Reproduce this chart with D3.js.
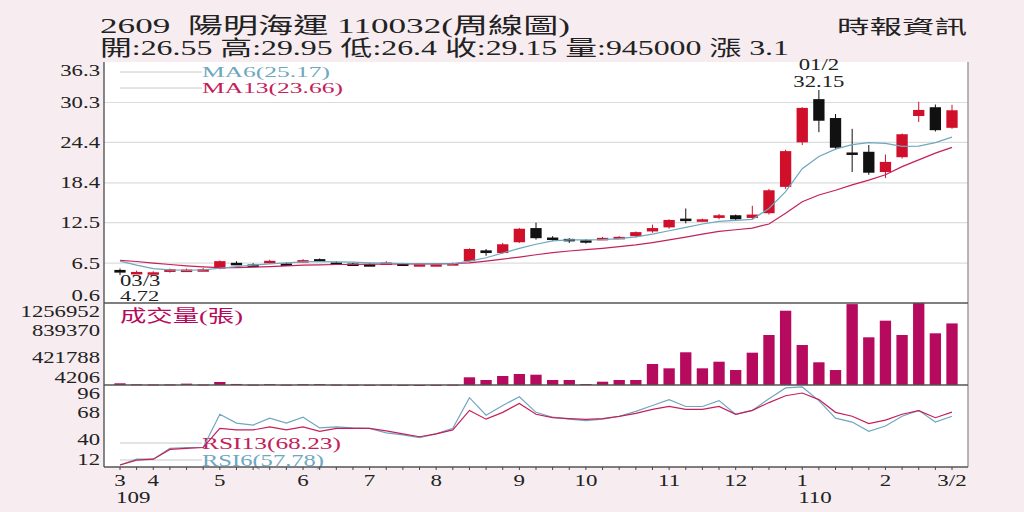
<!DOCTYPE html>
<html>
<head>
<meta charset="utf-8">
<script src="https://cdn.jsdelivr.net/npm/d3@7"></script>
<style>
  html, body { margin: 0; padding: 0; background: #f7edf0; }
  svg text { font-family: "Liberation Serif", "Noto Sans CJK TC", serif; fill: #222; white-space: pre; }
</style>
</head>
<body>
<div id="wrapper"></div>
<script>
// weekly candles, 109/03 .. 110/03
const weeks = ["2020-03-16","2020-03-23","2020-03-30","2020-04-06","2020-04-13","2020-04-20","2020-04-27",
  "2020-05-04","2020-05-11","2020-05-18","2020-05-25","2020-06-01","2020-06-08","2020-06-15","2020-06-22","2020-06-29",
  "2020-07-06","2020-07-13","2020-07-20","2020-07-27","2020-08-03","2020-08-10","2020-08-17","2020-08-24","2020-08-31",
  "2020-09-07","2020-09-14","2020-09-21","2020-09-28","2020-10-05","2020-10-12","2020-10-19","2020-10-26",
  "2020-11-02","2020-11-09","2020-11-16","2020-11-23","2020-11-30","2020-12-07","2020-12-14","2020-12-21","2020-12-28",
  "2021-01-04","2021-01-11","2021-01-18","2021-01-25","2021-02-01","2021-02-08","2021-02-15","2021-02-22","2021-03-01"]
const openPrices = [5.5,5.0,5.1,5.2,5.5,5.55,5.7,6.55,6.3,6.5,6.45,6.7,7.1,6.6,6.45,6.35,6.5,6.45,6.3,6.3,6.4,6.8,8.4,8.0,9.6,
  11.7,10.3,10.1,9.9,10.1,10.2,10.5,11.2,11.8,13.1,12.9,13.2,13.6,13.2,13.9,17.8,24.4,30.8,28.0,22.9,23.0,20.0,22.2,28.3,29.6,26.55]
const highPrices = [5.7,5.4,5.3,5.7,5.7,5.8,6.9,6.8,6.5,7.0,6.6,7.1,7.2,6.8,6.6,6.5,6.8,6.55,6.45,6.45,6.6,8.7,8.6,9.5,11.7,
  12.5,10.5,10.2,10.05,10.4,10.5,11.2,12.2,13.0,14.6,13.1,13.8,13.7,15.0,17.5,23.3,29.6,32.15,28.6,26.4,24.0,22.6,25.7,30.4,30.0,29.95]
const lowPrices = [4.72,4.9,5.0,5.1,5.4,5.4,5.6,6.3,6.1,6.4,6.3,6.6,6.7,6.4,6.3,6.2,6.4,6.3,6.2,6.2,6.3,6.7,7.6,7.9,9.5,
  10.0,9.8,9.5,9.4,10.0,10.1,10.3,11.0,11.6,12.4,12.7,13.0,12.8,13.0,13.7,17.5,24.0,25.9,23.4,20.0,19.6,19.1,22.0,27.4,26.0,26.4]
const closePrices = [5.1,5.2,5.15,5.6,5.55,5.6,6.8,6.4,6.25,6.85,6.4,6.95,6.8,6.5,6.4,6.3,6.6,6.4,6.35,6.35,6.5,8.6,8.0,9.3,11.6,
  10.2,9.95,10.0,9.85,10.25,10.4,11.1,11.7,12.9,12.8,13.0,13.6,13.0,13.7,17.3,23.1,29.5,27.6,23.6,22.7,19.9,21.5,25.6,29.2,26.2,29.15]
const ma6 = [6.8,6.2,5.7,5.5,5.45,5.5,5.75,6.0,6.2,6.4,6.55,6.7,6.75,6.7,6.65,6.55,6.5,6.45,6.4,6.4,6.4,6.8,7.3,8.0,8.7,
  9.3,9.8,9.95,9.95,10.0,10.15,10.4,10.8,11.3,11.8,12.3,12.7,12.85,13.0,14.6,17.1,20.5,22.3,23.4,24.05,24.35,24.25,23.8,23.85,24.35,25.17]
const ma13 = [6.9,6.75,6.5,6.3,6.1,5.95,5.85,5.85,5.9,6.0,6.1,6.2,6.25,6.3,6.3,6.35,6.35,6.4,6.4,6.4,6.45,6.55,6.8,7.1,7.4,
  7.75,8.05,8.3,8.5,8.7,8.95,9.2,9.55,9.95,10.35,10.8,11.2,11.45,11.7,12.3,13.9,15.6,16.6,17.3,18.1,18.8,19.6,20.8,21.8,22.8,23.66]
const volumes = [30000,15000,12000,14000,25000,12000,50000,20000,10000,18000,10000,16000,18000,10000,8000,7000,9000,6000,4206,6000,9000,
  121800,80600,141700,172300,161600,80600,80600,19500,54600,80600,80600,325000,259000,504000,259000,360000,233000,498000,768000,
  1139000,615000,351000,233000,1240000,733000,987000,768000,1256952,794000,945000]
const rsi6 = [14,20,20,31,32,32,66,57,55,62,57,63,52,53,52,51.6,47,45,42,46,51.6,83,65,75,84,68,63,61,59.5,61,64,69,75,81,74,74,
  80,66,70,82,93,94,80,62,58,48.5,54,64,70,58,64]
const rsi13 = [14,19,20,30,31,32,51.6,50,50,53,50,53,48.5,51.6,51.6,51.6,49,46,43,46,50,70,61,68,77,66,62.5,61.5,60.8,61.5,63.8,
  67,71,74,71,71,74,66,70,78,85,87.8,81,68,64,56.5,60,66,69.7,62.5,68.23]

const priceTicks = [0.6, 6.5, 12.5, 18.4, 24.4, 30.3, 36.3]
const volumeTicks = [4206, 421788, 839370, 1256952]
const rsiTicks = [12, 40, 68, 96]
const monthTickWeeks = ["2020-03-16","2020-03-30","2020-04-27","2020-06-01","2020-06-29","2020-07-27","2020-08-31",
  "2020-09-28","2020-11-02","2020-11-30","2020-12-28","2021-02-01","2021-03-01"]
const monthTickLabels = ["3","4","5","6","7","8","9","10","11","12","1","2","3/2"]
const yearTickWeeks = ["2020-03-16","2020-12-28"]
const yearTickLabels = ["109","110"]

const dimensions = {
  width: 1024,
  height: 512,
  left: 104,
  right: 968,
  priceTop: 62,
  priceBottom: 303,
  volumeBottom: 385,
  rsiBottom: 467,
}

const red = "#d0102a"
const black = "#111"
const magenta = "#b50a5e"
const teal = "#6ea7c0"
const crimson = "#c4215a"

// stretch a text sideways around its own anchor point
function widen(sel, sx) {
  sel.attr("transform", function() {
    const x = +this.getAttribute("x"), y = +this.getAttribute("y")
    return `translate(${x},${y}) scale(${sx},1) translate(${-x},${-y})`
  })
}

function drawChart() {
  const svg = d3.select("#wrapper")
    .append("svg")
      .attr("width", dimensions.width)
      .attr("height", dimensions.height)

  const xScale = d3.scalePoint()
    .domain(weeks)
    .range([dimensions.left + 16, dimensions.right - 16])
  const barWidth = xScale.step() * 0.68

  const yPrice = d3.scaleLinear().domain([0.6, 36.3]).range([dimensions.priceBottom, dimensions.priceTop])
  const yVolume = d3.scaleLinear().domain([4206, 1256952]).range([dimensions.volumeBottom, dimensions.priceBottom])
  const yRsi = d3.scaleLinear().domain([12, 96]).range([dimensions.rsiBottom, dimensions.volumeBottom])

  // white plotting area
  svg.append("rect")
    .attr("x", dimensions.left)
    .attr("y", dimensions.priceTop)
    .attr("width", dimensions.right - dimensions.left)
    .attr("height", dimensions.rsiBottom - dimensions.priceTop)
    .attr("fill", "#fff")

  // price gridlines
  svg.append("g").selectAll("line")
    .data(priceTicks.slice(1, -1))
    .join("line")
      .attr("x1", dimensions.left)
      .attr("x2", dimensions.right)
      .attr("y1", d => yPrice(d))
      .attr("y2", d => yPrice(d))
      .attr("stroke", "#dcdcdc")
      .attr("stroke-width", 1.2)

  // headers
  svg.append("text")
    .attr("x", 100).attr("y", 33)
    .attr("font-size", 22)
    .attr("textLength", 470).attr("lengthAdjust", "spacingAndGlyphs")
    .text("2609  陽明海運 110032(周線圖)")
  svg.append("text")
    .attr("x", 100).attr("y", 55)
    .attr("font-size", 21)
    .attr("textLength", 689).attr("lengthAdjust", "spacingAndGlyphs")
    .text("開:26.55 高:29.95 低:26.4 收:29.15 量:945000 漲 3.1")
  svg.append("text")
    .attr("x", 837).attr("y", 34)
    .attr("font-size", 19)
    .attr("textLength", 130).attr("lengthAdjust", "spacingAndGlyphs")
    .text("時報資訊")

  // y labels, the end labels are pushed inside their panel
  function yLabels(scale, values, top, bottom) {
    svg.append("g").selectAll("text")
      .data(values)
      .join("text")
        .attr("x", dimensions.left - 4)
        .attr("y", d => Math.max(top + 8, Math.min(bottom - 8, scale(d))))
        .attr("dy", "0.35em")
        .attr("text-anchor", "end")
        .attr("font-size", 16)
        .text(d => d)
        .call(widen, 1.42)
  }
  yLabels(yPrice, priceTicks, dimensions.priceTop, dimensions.priceBottom)
  yLabels(yVolume, volumeTicks, dimensions.priceBottom, dimensions.volumeBottom)
  yLabels(yRsi, rsiTicks, dimensions.volumeBottom, dimensions.rsiBottom)

  // candles
  const candles = svg.append("g").selectAll("g")
    .data(weeks)
    .join("g")
  candles.append("line")
    .attr("x1", d => xScale(d))
    .attr("x2", d => xScale(d))
    .attr("y1", (d, i) => yPrice(highPrices[i]))
    .attr("y2", (d, i) => yPrice(lowPrices[i]))
    .attr("stroke", (d, i) => closePrices[i] >= openPrices[i] ? red : black)
    .attr("stroke-width", 1)
  candles.append("rect")
    .attr("x", d => xScale(d) - barWidth / 2)
    .attr("width", barWidth)
    .attr("y", (d, i) => yPrice(Math.max(openPrices[i], closePrices[i])))
    .attr("height", (d, i) => Math.max(2.5, Math.abs(yPrice(openPrices[i]) - yPrice(closePrices[i]))))
    .attr("fill", (d, i) => closePrices[i] >= openPrices[i] ? red : black)

  // moving averages
  const priceLine = series => d3.line()
    .x((d, i) => xScale(weeks[i]))
    .y(d => yPrice(d))(series)
  svg.append("path").attr("d", priceLine(ma13))
    .attr("fill", "none").attr("stroke", crimson).attr("stroke-width", 1.2)
  svg.append("path").attr("d", priceLine(ma6))
    .attr("fill", "none").attr("stroke", teal).attr("stroke-width", 1.2)

  // MA legend
  const maLegend = [["MA6(25.17)", teal, 77, 128], ["MA13(23.66)", crimson, 93, 141]]
  maLegend.forEach(([label, color, y, w]) => {
    svg.append("line")
      .attr("x1", 120).attr("x2", 202).attr("y1", y - 5).attr("y2", y - 5)
      .attr("stroke", "#c8c8c8")
    svg.append("text")
      .attr("x", 202).attr("y", y)
      .attr("font-size", 15.5)
      .attr("textLength", w).attr("lengthAdjust", "spacingAndGlyphs")
      .style("fill", color)
      .text(label)
  })

  // extreme annotations
  svg.append("text").attr("x", 120).attr("y", 286).attr("font-size", 16).text("03/3").call(widen, 1.42)
  svg.append("text").attr("x", 120).attr("y", 301).attr("font-size", 15).text("4.72").call(widen, 1.5)
  svg.append("text").attr("x", xScale("2021-01-04")).attr("y", 70).attr("font-size", 16)
    .attr("text-anchor", "middle").text("01/2").call(widen, 1.42)
  svg.append("text").attr("x", xScale("2021-01-04")).attr("y", 87).attr("font-size", 16)
    .attr("text-anchor", "middle").text("32.15").call(widen, 1.42)

  // volume bars
  svg.append("g").selectAll("rect")
    .data(weeks)
    .join("rect")
      .attr("x", d => xScale(d) - barWidth / 2)
      .attr("width", barWidth)
      .attr("y", (d, i) => yVolume(volumes[i]))
      .attr("height", (d, i) => Math.max(1, dimensions.volumeBottom - yVolume(volumes[i])))
      .attr("fill", magenta)
  svg.append("text")
    .attr("x", 120).attr("y", 322)
    .attr("font-size", 17)
    .attr("textLength", 123).attr("lengthAdjust", "spacingAndGlyphs")
    .style("fill", magenta)
    .text("成交量(張)")

  // RSI
  const rsiLine = series => d3.line()
    .x((d, i) => xScale(weeks[i]))
    .y(d => yRsi(d))(series)
  const rsiLegend = [["RSI13(68.23)", crimson, 449, 139], ["RSI6(57.78)", teal, 466, 122]]
  rsiLegend.forEach(([label, color, y, w]) => {
    svg.append("line")
      .attr("x1", 120).attr("x2", 202).attr("y1", y - 6).attr("y2", y - 6)
      .attr("stroke", "#c8c8c8")
    svg.append("text")
      .attr("x", 202).attr("y", y)
      .attr("font-size", 16)
      .attr("textLength", w).attr("lengthAdjust", "spacingAndGlyphs")
      .style("fill", color)
      .text(label)
  })
  svg.append("path").attr("d", rsiLine(rsi6))
    .attr("fill", "none").attr("stroke", teal).attr("stroke-width", 1.2)
  svg.append("path").attr("d", rsiLine(rsi13))
    .attr("fill", "none").attr("stroke", crimson).attr("stroke-width", 1.2)

  // frame
  const frame = svg.append("g").attr("stroke", "#555").attr("stroke-width", 1.4)
  frame.append("line").attr("x1", dimensions.left).attr("x2", dimensions.left)
    .attr("y1", dimensions.priceTop).attr("y2", dimensions.rsiBottom)
  frame.append("line").attr("x1", dimensions.right).attr("x2", dimensions.right)
    .attr("y1", dimensions.priceTop).attr("y2", dimensions.rsiBottom).attr("stroke", "#999")
  ;[dimensions.priceBottom, dimensions.volumeBottom, dimensions.rsiBottom].forEach(y => {
    frame.append("line").attr("x1", dimensions.left).attr("x2", dimensions.right)
      .attr("y1", y).attr("y2", y)
  })

  // weekly tick dots and month labels
  svg.append("g").selectAll("line")
    .data(weeks)
    .join("line")
      .attr("x1", d => xScale(d)).attr("x2", d => xScale(d))
      .attr("y1", dimensions.rsiBottom).attr("y2", dimensions.rsiBottom + 3)
      .attr("stroke", "#444")
  svg.append("g").selectAll("text")
    .data(monthTickWeeks)
    .join("text")
      .attr("x", d => xScale(d))
      .attr("y", 486)
      .attr("text-anchor", "middle")
      .attr("font-size", 17)
      .text((d, i) => monthTickLabels[i])
      .call(widen, 1.35)
  svg.append("g").selectAll("text")
    .data(yearTickWeeks)
    .join("text")
      .attr("x", d => xScale(d) - 4)
      .attr("y", 503)
      .attr("font-size", 17)
      .text((d, i) => yearTickLabels[i])
      .call(widen, 1.35)
}

drawChart()
</script>
</body>
</html>
